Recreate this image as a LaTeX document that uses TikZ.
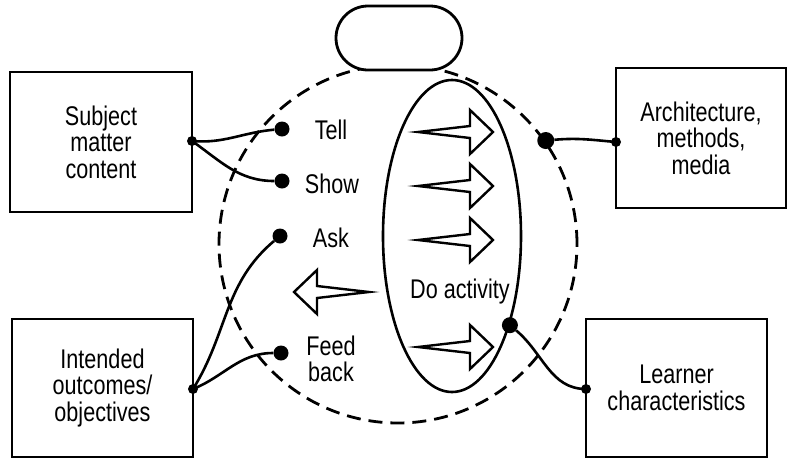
\documentclass[tikz,border=0pt]{standalone}
\usepackage{fontspec}
\setmainfont{Liberation Sans}[FakeStretch=0.8]
\usetikzlibrary{shapes.geometric}
\begin{document}
\begin{tikzpicture}[x=1pt,y=-1pt,
  font=\fontsize{27}{26.5}\selectfont,
  box/.style={draw, line width=2.8pt, align=center, inner sep=0pt},
  lbl/.style={align=center, inner sep=0pt},
  bigdot/.style={circle, fill=black, inner sep=0pt, minimum size=17pt},
  smalldot/.style={circle, fill=black, inner sep=0pt, minimum size=10pt},
  conn/.style={line width=2.6pt},
  blk/.style={draw, line width=2.4pt, fill=white, line join=miter},
  pics/rarrow/.style={code={\draw[blk] (0,0) -- (52,-6) -- (52,-22) -- (75,0) -- (52,22) -- (52,6) -- cycle;}}
]
\useasboundingbox (0,0) rectangle (788,459);

% dashed circle
\node[circle, draw, dashed, dash pattern=on 14pt off 8pt, line width=2.8pt, minimum size=358pt, inner sep=0pt] (big) at (398,244) {};
% capsule
\node[draw, fill=white, line width=2.8pt, rectangle, rounded corners=32pt, minimum width=126pt, minimum height=64pt] (cap) at (399,38) {};
% activity ellipse
\node[ellipse, draw, line width=2.6pt, minimum width=138pt, minimum height=312pt, inner sep=0pt] (act) at (452,236) {};

% boxes
\node[box, minimum width=182pt, minimum height=140pt] (subj) at (101,142) {Subject\\matter\\content};
\node[box, minimum width=170pt, minimum height=140pt] (arch) at (701,138) {Architecture,\\methods,\\media};
\node[box, minimum width=181pt, minimum height=138pt] (intd) at (102.5,388) {Intended\\outcomes/\\objectives};
\node[box, minimum width=181pt, minimum height=138pt] (lrn) at (676.5,388) {Learner\\characteristics};

% block arrows
\pic at (418,132) {rarrow};
\pic at (418,186) {rarrow};
\pic at (418,240) {rarrow};
\pic at (418,347) {rarrow};
\pic[xscale=-1] at (369,292) {rarrow};

% labels
\node[lbl] (tell) at (331,130) {Tell};
\node[lbl] (show) at (332,184) {Show};
\node[lbl] (ask) at (331,238) {Ask};
\node[lbl] (feed) at (331,359) {Feed\\back};
\node[lbl] (doact) at (460,292) {Do activity};

% dots
\node[smalldot] (dsubj) at (192,141) {};
\node[smalldot] (darch) at (616,142) {};
\node[smalldot] (dintd) at (193,389) {};
\node[smalldot] (dlrn) at (586,389) {};
\node[bigdot, minimum size=15pt] (dtell) at (282,129) {};
\node[bigdot, minimum size=15pt] (dshow) at (282,181) {};
\node[bigdot, minimum size=15pt] (dask) at (280,236) {};
\node[bigdot, minimum size=15pt] (dfeed) at (281,353) {};
\node[bigdot] (dbig) at (big.35) {};
\node[bigdot, minimum size=16pt] (dact) at (act.-57) {};

% connectors
\draw[conn] (dsubj.center) to[out=-5,in=185] (dtell);
\draw[conn] (dsubj.center) to[out=-35,in=180] (dshow);
\draw[conn] (dintd.center) to[out=58,in=220] (dask);
\draw[conn] (dintd.center) to[out=22,in=180] (dfeed);
\draw[conn] (dbig) to[out=5,in=175] (darch.center);
\draw[conn] (dact) to[out=-40,in=180] (dlrn.center);
\end{tikzpicture}
\end{document}
